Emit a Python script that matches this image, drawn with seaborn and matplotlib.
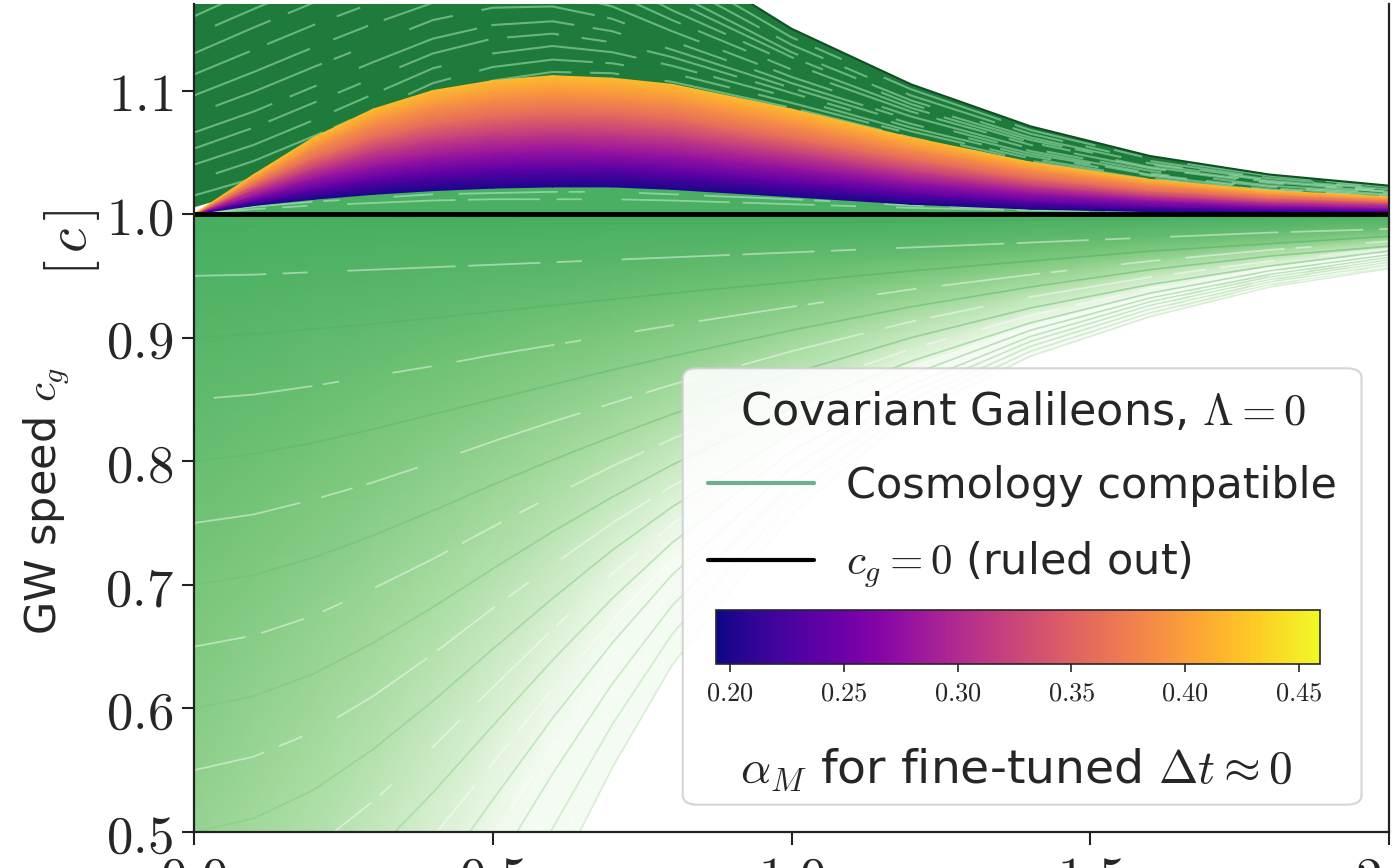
import numpy as np
import pandas as pd
import matplotlib
matplotlib.use("Agg")
import matplotlib.pyplot as plt
import seaborn as sns
from matplotlib.lines import Line2D
from matplotlib.patches import FancyBboxPatch
from matplotlib.ticker import FuncFormatter
from matplotlib.colors import Normalize
from matplotlib.cm import ScalarMappable

# redshift nodes shared by all the curves
z_nodes = [0.0, 0.1, 0.2, 0.3, 0.4, 0.5, 0.6, 0.7, 0.8, 1.0, 1.2, 1.4, 1.6, 1.8, 2.0]
luminal = 1.0

# fine-tuned (Delta t ~ 0) solutions, lowest alpha_M at the bottom
alpha_m = [0.20, 0.24, 0.28, 0.32, 0.36, 0.39, 0.42]
tuned_curves = [
    [1.000, 1.007, 1.012, 1.016, 1.019, 1.021, 1.022, 1.022, 1.020, 1.014, 1.008, 1.004, 1.002, 1.001, 1.001],
    [1.000, 1.011, 1.020, 1.028, 1.033, 1.036, 1.037, 1.037, 1.034, 1.026, 1.017, 1.010, 1.006, 1.004, 1.003],
    [1.000, 1.015, 1.029, 1.039, 1.046, 1.050, 1.052, 1.051, 1.048, 1.038, 1.026, 1.017, 1.011, 1.007, 1.005],
    [1.000, 1.020, 1.037, 1.051, 1.060, 1.065, 1.067, 1.066, 1.063, 1.050, 1.035, 1.023, 1.015, 1.010, 1.008],
    [1.000, 1.024, 1.045, 1.062, 1.073, 1.079, 1.082, 1.081, 1.077, 1.061, 1.044, 1.029, 1.019, 1.013, 1.010],
    [1.000, 1.028, 1.054, 1.074, 1.087, 1.094, 1.097, 1.095, 1.091, 1.073, 1.053, 1.036, 1.024, 1.016, 1.012],
    [1.000, 1.032, 1.062, 1.085, 1.100, 1.108, 1.112, 1.110, 1.105, 1.085, 1.062, 1.042, 1.028, 1.019, 1.014],
]

# cosmology compatible, c_g > 1 (dark sheet): lower and upper edge
fast_inner = [1.006, 1.020, 1.040, 1.062, 1.085, 1.100, 1.108, 1.108, 1.103, 1.083, 1.060, 1.040, 1.026, 1.017, 1.012]
fast_outer = [1.220, 1.245, 1.265, 1.280, 1.290, 1.290, 1.280, 1.250, 1.210, 1.150, 1.105, 1.071, 1.047, 1.032, 1.023]
fast_curves = [
    [1.015, 1.029, 1.049, 1.071, 1.093, 1.108, 1.115, 1.114, 1.107, 1.086, 1.062, 1.041, 1.027, 1.018, 1.012],
    [1.027, 1.043, 1.063, 1.084, 1.106, 1.119, 1.125, 1.122, 1.114, 1.090, 1.065, 1.043, 1.028, 1.019, 1.013],
    [1.040, 1.056, 1.076, 1.097, 1.118, 1.130, 1.136, 1.131, 1.120, 1.094, 1.067, 1.045, 1.029, 1.019, 1.014],
    [1.053, 1.070, 1.090, 1.110, 1.130, 1.142, 1.146, 1.139, 1.127, 1.098, 1.070, 1.047, 1.031, 1.020, 1.014],
    [1.066, 1.083, 1.103, 1.123, 1.142, 1.153, 1.156, 1.148, 1.133, 1.102, 1.073, 1.049, 1.032, 1.021, 1.015],
    [1.081, 1.099, 1.119, 1.138, 1.157, 1.167, 1.168, 1.158, 1.140, 1.106, 1.076, 1.051, 1.033, 1.022, 1.016],
    [1.096, 1.115, 1.135, 1.154, 1.171, 1.180, 1.180, 1.168, 1.148, 1.111, 1.079, 1.053, 1.035, 1.023, 1.017],
    [1.113, 1.133, 1.153, 1.171, 1.188, 1.195, 1.194, 1.179, 1.157, 1.117, 1.083, 1.056, 1.037, 1.025, 1.018],
    [1.130, 1.151, 1.171, 1.188, 1.204, 1.210, 1.208, 1.190, 1.165, 1.122, 1.086, 1.058, 1.038, 1.026, 1.018],
    [1.145, 1.166, 1.186, 1.204, 1.218, 1.224, 1.220, 1.200, 1.173, 1.127, 1.089, 1.060, 1.040, 1.027, 1.019],
    [1.160, 1.182, 1.202, 1.219, 1.233, 1.237, 1.232, 1.210, 1.180, 1.131, 1.092, 1.062, 1.041, 1.028, 1.020],
    [1.177, 1.200, 1.220, 1.236, 1.249, 1.252, 1.246, 1.222, 1.189, 1.137, 1.096, 1.065, 1.043, 1.029, 1.021],
    [1.199, 1.223, 1.243, 1.258, 1.270, 1.271, 1.263, 1.236, 1.199, 1.143, 1.101, 1.068, 1.045, 1.031, 1.022],
]

# cosmology compatible, barely above 1 (under the fine-tuned band)
near_edge = [1.000, 1.008, 1.013, 1.017, 1.020, 1.022, 1.023, 1.023, 1.021, 1.015, 1.009, 1.005, 1.003, 1.002, 1.001]
near_curves = [
    [1.000, 1.004, 1.007, 1.009, 1.011, 1.012, 1.012, 1.012, 1.011, 1.008, 1.005, 1.003, 1.002, 1.001, 1.000],
    [1.000, 1.006, 1.010, 1.013, 1.016, 1.017, 1.018, 1.018, 1.016, 1.012, 1.007, 1.004, 1.002, 1.001, 1.001],
]

# cosmology compatible, c_g < 1 (top to bottom)
slow_curves = [
    [0.990, 0.990, 0.990, 0.991, 0.991, 0.991, 0.992, 0.992, 0.992, 0.993, 0.994, 0.995, 0.996, 0.997, 0.998],
    [0.950, 0.951, 0.953, 0.955, 0.957, 0.959, 0.961, 0.963, 0.965, 0.969, 0.973, 0.977, 0.981, 0.985, 0.988],
    [0.900, 0.903, 0.907, 0.911, 0.916, 0.921, 0.926, 0.931, 0.936, 0.945, 0.954, 0.962, 0.970, 0.976, 0.982],
    [0.850, 0.854, 0.861, 0.869, 0.877, 0.886, 0.894, 0.902, 0.910, 0.925, 0.939, 0.951, 0.962, 0.971, 0.978],
    [0.800, 0.806, 0.815, 0.826, 0.838, 0.850, 0.862, 0.874, 0.885, 0.906, 0.925, 0.941, 0.955, 0.966, 0.974],
    [0.750, 0.757, 0.769, 0.783, 0.799, 0.816, 0.832, 0.847, 0.862, 0.889, 0.913, 0.933, 0.949, 0.962, 0.972],
    [0.700, 0.708, 0.722, 0.740, 0.760, 0.781, 0.801, 0.820, 0.838, 0.871, 0.900, 0.924, 0.943, 0.958, 0.970],
    [0.650, 0.659, 0.675, 0.697, 0.721, 0.747, 0.772, 0.796, 0.818, 0.857, 0.891, 0.918, 0.940, 0.956, 0.969],
    [0.600, 0.610, 0.628, 0.653, 0.682, 0.713, 0.743, 0.771, 0.797, 0.843, 0.881, 0.912, 0.936, 0.954, 0.967],
    [0.550, 0.561, 0.581, 0.610, 0.644, 0.681, 0.716, 0.750, 0.780, 0.833, 0.876, 0.909, 0.934, 0.953, 0.966],
    [0.500, 0.511, 0.534, 0.567, 0.606, 0.648, 0.689, 0.728, 0.763, 0.823, 0.870, 0.906, 0.932, 0.951, 0.965],
    [0.450, 0.462, 0.487, 0.525, 0.569, 0.617, 0.664, 0.709, 0.749, 0.816, 0.866, 0.904, 0.931, 0.950, 0.964],
    [0.400, 0.412, 0.440, 0.482, 0.532, 0.586, 0.639, 0.689, 0.734, 0.808, 0.862, 0.901, 0.929, 0.949, 0.963],
    [0.350, 0.363, 0.393, 0.440, 0.496, 0.556, 0.616, 0.671, 0.721, 0.802, 0.859, 0.899, 0.928, 0.948, 0.962],
    [0.300, 0.314, 0.346, 0.397, 0.459, 0.526, 0.592, 0.653, 0.708, 0.795, 0.856, 0.897, 0.926, 0.947, 0.961],
    [0.250, 0.265, 0.299, 0.355, 0.423, 0.497, 0.570, 0.637, 0.696, 0.789, 0.853, 0.895, 0.925, 0.946, 0.960],
    [0.200, 0.216, 0.252, 0.312, 0.386, 0.468, 0.547, 0.620, 0.683, 0.782, 0.850, 0.893, 0.923, 0.945, 0.959],
    [0.150, 0.167, 0.205, 0.270, 0.351, 0.440, 0.525, 0.604, 0.672, 0.776, 0.847, 0.891, 0.922, 0.944, 0.958],
    [0.100, 0.117, 0.158, 0.228, 0.315, 0.411, 0.503, 0.587, 0.660, 0.770, 0.844, 0.889, 0.920, 0.943, 0.957],
    [0.050, 0.068, 0.112, 0.186, 0.279, 0.382, 0.480, 0.570, 0.648, 0.764, 0.841, 0.887, 0.919, 0.942, 0.957],
    [0.000, 0.019, 0.065, 0.143, 0.243, 0.352, 0.457, 0.552, 0.635, 0.757, 0.838, 0.885, 0.917, 0.941, 0.956],
]

cbar_ticks = [0.20, 0.25, 0.30, 0.35, 0.40, 0.45]


def long_frame(curves, tag):
    rows = []
    for i, c in enumerate(curves):
        for z, y in zip(z_nodes, c):
            rows.append((f"{tag}{i:02d}", i, z, y, luminal - c[0]))
    return pd.DataFrame(rows, columns=["curve", "idx", "z", "cg", "depth"])


def streaks(df, color, lw, alpha, ax, zorder):
    # light gaps between neighbouring solutions, drawn as broken lines
    patterns = [(0, (40, 9, 14, 22, 60, 7)), (25, (22, 14, 55, 6, 9, 30)),
                (10, (70, 12, 18, 8, 30, 25)), (48, (12, 20, 45, 9, 25, 11))]
    for k, (name, g) in enumerate(df.groupby("curve")):
        sns.lineplot(data=g, x="z", y="cg", color=color, lw=lw, alpha=alpha,
                     linestyle=patterns[k % len(patterns)], sort=False,
                     legend=False, ax=ax, zorder=zorder)


sns.set_theme(style="ticks")
plt.rcParams["font.family"] = ["DejaVu Sans"]
plt.rcParams["mathtext.fontset"] = "cm"

fig = plt.figure(figsize=(14, 8.68), dpi=100)
ax = fig.add_axes([194 / 1400, 36 / 868, 1195 / 1400, 828 / 868])
z = np.array(z_nodes)

# c_g < 1 sheet, shaded paler with depth and redshift
slow = np.vstack([np.full(len(z), luminal), np.array(slow_curves)])
depth = luminal - slow[:, :1]
shade = np.clip(0.61 - 0.40 * depth - 0.65 * depth * z[None, :], 0.02, None)
ax.pcolormesh(np.tile(z, (len(slow), 1)), slow, shade, shading="gouraud",
              cmap="Greens", vmin=0, vmax=1, zorder=1)
slow_df = long_frame(slow_curves, "s")
slow_df["shade"] = 0.62 - 0.34 * slow_df["depth"]
rays = slow_df[slow_df["idx"] % 2 == 0]
sns.lineplot(data=rays, x="z", y="cg", units="curve", estimator=None, hue="shade",
             palette="Greens", hue_norm=(0, 1), lw=1.2, alpha=0.55, legend=False,
             sort=False, ax=ax, zorder=2)
streaks(slow_df[slow_df["idx"] % 2 == 1], "white", 1.3, 0.45, ax, 2)

# c_g > 1 sheet
ax.fill_between(z_nodes, fast_inner, fast_outer, color="#1e7b3b", lw=0, zorder=3)
streaks(long_frame(fast_curves, "f"), "#a8e6b8", 1.5, 0.55, ax, 4)
ax.plot(z_nodes, fast_outer, color="#0e4f24", lw=1.5, zorder=4)

ax.fill_between(z_nodes, luminal, near_edge, color="#4aae63", lw=0, zorder=3)
streaks(long_frame(near_curves, "n"), "#c4f0cf", 1.3, 0.55, ax, 4)

# fine-tuned band coloured by alpha_M
norm = Normalize(0.194, 0.459)
tuned = np.array(tuned_curves)
ax.pcolormesh(np.tile(z, (len(tuned), 1)), tuned,
              np.repeat(np.array(alpha_m)[:, None], len(z), axis=1),
              shading="gouraud", cmap="plasma", norm=norm, zorder=5)

sns.lineplot(x=z_nodes, y=[luminal] * len(z_nodes), color="black", lw=3.5, ax=ax, zorder=6)

ax.set_xlim(0, 2)
ax.set_ylim(0.5, 1.17)
ax.set_xticks([0, 0.5, 1.0, 1.5, 2.0])
ax.set_yticks([0.5, 0.6, 0.7, 0.8, 0.9, 1.0, 1.1])
ax.xaxis.set_major_formatter(FuncFormatter(lambda v, p: f"${v:.1f}$"))
ax.yaxis.set_major_formatter(FuncFormatter(lambda v, p: f"${v:.1f}$"))
ax.tick_params(labelsize=38, length=9, width=1.5, color="#222222", pad=6)
ax.spines["top"].set_visible(False)
for s in ["left", "right", "bottom"]:
    ax.spines[s].set_linewidth(1.6)
    ax.spines[s].set_color("#222222")
    ax.spines[s].set_zorder(20)
ax.set_xlabel("")
ax.set_ylabel(r"GW speed $c_g$", fontsize=31)
ax.yaxis.set_label_coords(-0.102, 0.4)
ax.text(-0.102, 0.752, r"$[\,c\,]$", transform=ax.transAxes, rotation=90, fontsize=40,
        ha="right", va="center", rotation_mode="anchor")

# legend panel with the alpha_M colour bar inside
frame = FancyBboxPatch((0.409, 0.033), 0.568, 0.527, boxstyle="round,pad=0,rounding_size=0.012",
                       transform=ax.transAxes, fc="white", ec="#cfcfcf", lw=1.5,
                       alpha=0.88, zorder=10)
ax.add_patch(frame)
handles = [Line2D([], [], color="#6db08f", lw=3), Line2D([], [], color="black", lw=3)]
labels = ["Cosmology compatible", r"$c_g = 0$ (ruled out)"]
leg = ax.legend(handles, labels, title=r"Covariant Galileons, $\Lambda = 0$",
                loc="upper left", bbox_to_anchor=(0.416, 0.553), frameon=False,
                fontsize=31, title_fontsize=32, handlelength=2.45, handletextpad=0.75,
                labelspacing=0.75, borderaxespad=0)
leg._legend_box.sep = 22
leg.set_zorder(12)

cax = ax.inset_axes([0.437, 0.203, 0.505, 0.065])
cax.set_zorder(12)
cb = fig.colorbar(ScalarMappable(norm=norm, cmap="plasma"), cax=cax, orientation="horizontal")
cb.set_ticks(cbar_ticks)
cb.set_ticklabels([f"${t:.2f}$" for t in cbar_ticks])
cax.tick_params(labelsize=19, length=6, width=1.2, pad=6)
cb.outline.set_linewidth(1.2)
ax.text(0.688, 0.075, r"$\alpha_M$ for fine-tuned $\Delta t \approx 0$", transform=ax.transAxes,
        ha="center", va="center", fontsize=34, zorder=12)

fig.savefig("out.png", dpi=100)
